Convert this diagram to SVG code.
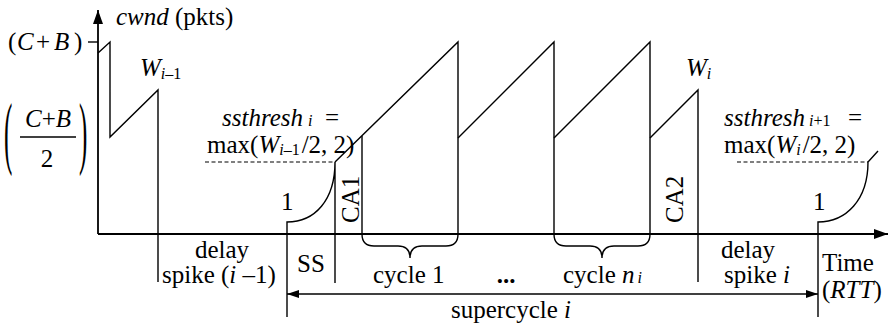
<svg xmlns="http://www.w3.org/2000/svg" width="895" height="328" viewBox="0 0 895 328">
<defs>
<marker id="ah" viewBox="0 0 14 10" refX="14" refY="5" markerWidth="14" markerHeight="10" markerUnits="userSpaceOnUse" orient="auto-start-reverse"><path d="M0,0 L14,5 L0,10 Z" fill="#000"/></marker>
<marker id="ahs" viewBox="0 0 12 8" refX="12" refY="4" markerWidth="12" markerHeight="8" markerUnits="userSpaceOnUse" orient="auto-start-reverse"><path d="M0,0 L12,4 L0,8 Z" fill="#000"/></marker>
</defs>
<rect width="895" height="328" fill="#fff"/>
<g id="axes" fill="none" stroke="#000">
<path stroke-width="1.8" d="M98,234 V10" marker-end="url(#ah)"/>
<path stroke-width="1.8" d="M98,234 H888" marker-end="url(#ah)"/>
<path stroke-width="1.4" d="M88,42 H98"/>
</g>
<g id="connectors" fill="none" stroke="#000" stroke-width="1.4">
<path d="M98,53 L110,42 V137 L158,90 V282"/>
<path d="M287,317 V222 C315,222 335,200 335,162 V283"/>
<path d="M335,162 L458,42 V234"/>
<path d="M362,136 V234"/>
<path d="M458,138 L554,42 V234"/>
<path d="M554,138 L650,42 V234"/>
<path d="M650,138 L698,90 V282"/>
<path d="M818,317 V222 C846,222 868,200 868,162 L878,151"/>
<path stroke-width="1.2" stroke-dasharray="4,2.5" d="M205,162 H335"/>
<path stroke-width="1.2" stroke-dasharray="4,2.5" d="M737,162 H868"/>
<path d="M362,234 Q362,246 374,246 H398 Q410,246 410,258 Q410,246 422,246 H446 Q458,246 458,234"/>
<path d="M554,234 Q554,246 566,246 H590 Q602,246 602,258 Q602,246 614,246 H638 Q650,246 650,234"/>
<path d="M287,294 H818" marker-start="url(#ahs)" marker-end="url(#ahs)"/>
<path d="M20,137 H76"/>
</g>
<g id="y-labels" fill="#000">
<text font-family="Liberation Serif" font-size="25" x="116" y="25"><tspan font-style="italic">cwnd</tspan> (pkts)</text>
<text font-family="Liberation Serif" font-size="25" x="8" y="50">(<tspan font-style="italic" x="17">C</tspan><tspan x="36">+</tspan><tspan font-style="italic" x="54">B</tspan><tspan x="74">)</tspan></text>
<text font-family="Liberation Serif" font-size="25" transform="scale(1,3.2)" x="4" y="49.8">(</text>
<text font-family="Liberation Serif" font-size="25" transform="scale(1,3.2)" x="79" y="49.8">)</text>
<text font-family="Liberation Serif" font-size="25" x="48" y="127" text-anchor="middle"><tspan font-style="italic">C</tspan>+<tspan font-style="italic">B</tspan></text>
<text font-family="Liberation Serif" font-size="25" x="47" y="167" text-anchor="middle">2</text>
</g>
<g id="peak-labels" fill="#000">
<text font-family="Liberation Serif" font-size="25" x="140" y="76"><tspan font-style="italic">W</tspan><tspan font-style="italic" font-size="16" dy="3">i</tspan><tspan font-size="16">&#8211;1</tspan></text>
<text font-family="Liberation Serif" font-size="25" x="686" y="76"><tspan font-style="italic">W</tspan><tspan font-style="italic" font-size="16" dy="3">i</tspan></text>
</g>
<g id="ssthresh-labels" fill="#000">
<text font-family="Liberation Serif" font-size="25" x="222" y="126"><tspan font-style="italic">ssthresh</tspan><tspan font-style="italic" font-size="16" dx="5">i</tspan><tspan x="325">=</tspan></text>
<text font-family="Liberation Serif" font-size="25" x="207" y="153">max(<tspan font-style="italic">W</tspan><tspan font-style="italic" font-size="16" dy="2">i</tspan><tspan font-size="16">&#8211;1</tspan><tspan dy="-2" dx="2">/2, 2)</tspan></text>
<text font-family="Liberation Serif" font-size="25" x="724" y="126"><tspan font-style="italic">ssthresh</tspan><tspan font-size="16" dx="4"><tspan font-style="italic">i</tspan>+1</tspan><tspan x="848">=</tspan></text>
<text font-family="Liberation Serif" font-size="25" x="724" y="153">max(<tspan font-style="italic">W</tspan><tspan font-style="italic" font-size="16" dy="2">i</tspan><tspan dy="-2" dx="2">/2, 2)</tspan></text>
<text font-family="Liberation Serif" font-size="25" x="281" y="210">1</text>
<text font-family="Liberation Serif" font-size="25" x="813" y="210">1</text>
</g>
<g id="phase-labels" fill="#000">
<text font-family="Liberation Serif" font-size="25" transform="translate(359,223) rotate(-90)">CA1</text>
<text font-family="Liberation Serif" font-size="25" transform="translate(683,223) rotate(-90)">CA2</text>
<text font-family="Liberation Serif" font-size="25" x="222" y="258" text-anchor="middle">delay</text>
<text font-family="Liberation Serif" font-size="25" x="162" y="283">spike (<tspan font-style="italic">i</tspan> &#8211;1)</text>
<text font-family="Liberation Serif" font-size="25" x="297" y="272">SS</text>
<text font-family="Liberation Serif" font-size="25" x="373" y="283">cycle 1</text>
<text font-family="Liberation Serif" font-size="25" x="506" y="283" text-anchor="middle" font-weight="bold">...</text>
<text font-family="Liberation Serif" font-size="25" x="563" y="283">cycle <tspan font-style="italic">n</tspan><tspan font-style="italic" font-size="16" dx="3">i</tspan></text>
<text font-family="Liberation Serif" font-size="25" x="748" y="258" text-anchor="middle">delay</text>
<text font-family="Liberation Serif" font-size="25" x="724" y="283">spike <tspan font-style="italic">i</tspan></text>
<text font-family="Liberation Serif" font-size="25" x="822" y="271">Time</text>
<text font-family="Liberation Serif" font-size="25" x="822" y="298">(<tspan font-style="italic">RTT</tspan>)</text>
<text font-family="Liberation Serif" font-size="25" x="511" y="318" text-anchor="middle">supercycle <tspan font-style="italic">i</tspan></text>
</g>
</svg>
